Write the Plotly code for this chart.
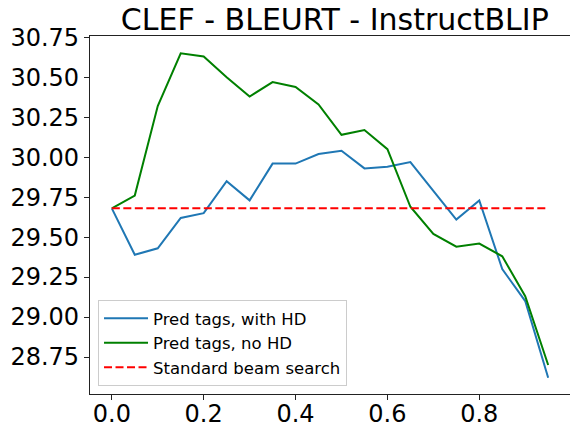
import plotly.graph_objects as go

x_vals = [0.0, 0.05, 0.1, 0.15, 0.2, 0.25, 0.3, 0.35, 0.4, 0.45,
          0.5, 0.55, 0.6, 0.65, 0.7, 0.75, 0.8, 0.85, 0.9, 0.95]
with_hd = [29.68, 29.39, 29.43, 29.62, 29.65, 29.85, 29.73, 29.96, 29.96, 30.02,
           30.04, 29.93, 29.94, 29.97, 29.79, 29.61, 29.73, 29.30, 29.10, 28.62]
no_hd = [29.68, 29.76, 30.32, 30.65, 30.63, 30.50, 30.38, 30.47, 30.44, 30.33,
         30.14, 30.17, 30.05, 29.69, 29.52, 29.44, 29.46, 29.38, 29.13, 28.70]
baseline = 29.68
y_ticks = [28.75, 29.00, 29.25, 29.50, 29.75, 30.00, 30.25, 30.50, 30.75]
x_ticks = [0.0, 0.2, 0.4, 0.6, 0.8]

FONT = "DejaVu Sans"

fig = go.Figure()
fig.add_trace(go.Scatter(x=x_vals, y=with_hd, mode="lines", name="Pred tags, with HD",
                         line=dict(color="#1f77b4", width=2)))
fig.add_trace(go.Scatter(x=x_vals, y=no_hd, mode="lines", name="Pred tags, no HD",
                         line=dict(color="green", width=2)))
fig.add_trace(go.Scatter(x=x_vals, y=[baseline] * len(x_vals), mode="lines",
                         name="Standard beam search",
                         line=dict(color="red", width=2, dash="8px,3.5px")))

axis_common = dict(showgrid=False, zeroline=False, showline=True, linecolor="#222222",
                   linewidth=1.1, mirror=True, ticks="outside", ticklen=5, tickwidth=1.1,
                   tickcolor="#222222", tickfont=dict(family=FONT, size=24, color="black"),
                   automargin=False)

fig.update_layout(
    width=570, height=427,
    margin=dict(l=90, r=0, t=36, b=33, autoexpand=False),
    paper_bgcolor="white", plot_bgcolor="white",
    font=dict(family=FONT, color="black"),
    title=dict(text="CLEF - BLEURT - InstructBLIP", x=0.51, xref="paper",
               xanchor="center", y=1 - 19 / 427, yref="container", yanchor="middle",
               font=dict(family=FONT, size=30, color="black")),
    xaxis=dict(range=[-0.0475, 0.9975], tickvals=x_ticks,
               ticktext=[f"{v:.1f}" for v in x_ticks], ticklabelstandoff=-7,
               **axis_common),
    yaxis=dict(range=[28.5185, 30.7585], tickvals=y_ticks,
               ticktext=[f"{v:.2f}" for v in y_ticks], **axis_common),
    legend=dict(x=0.0167, y=0.022, xanchor="left", yanchor="bottom",
                bgcolor="rgba(255,255,255,0.8)", bordercolor="#cccccc", borderwidth=1,
                font=dict(family=FONT, size=16.5, color="black"), itemwidth=44,
                tracegroupgap=0),
    showlegend=True,
)

fig.write_html("out.html", config={"displayModeBar": False},
               post_script="document.body.style.margin='0';document.body.style.overflow='hidden';")
